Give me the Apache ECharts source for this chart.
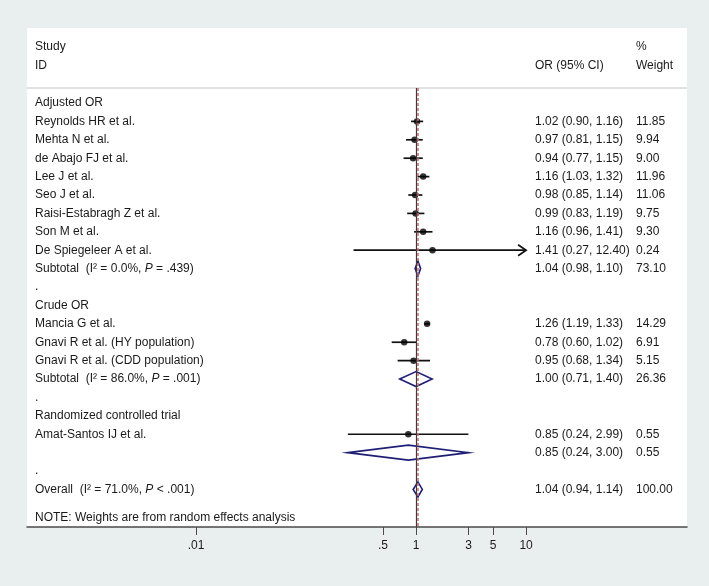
<!DOCTYPE html>
<html>
<head>
<meta charset="utf-8">
<script src="https://cdn.jsdelivr.net/npm/echarts@6/dist/echarts.min.js"></script>
<style>html,body{margin:0;padding:0;background:#e9efef;}#c{width:709px;height:586px;}</style>
</head>
<body>
<div id="c"></div>
<script>
// ---- data ----
const rowLabels = ["Adjusted OR","Reynolds HR et al.","Mehta N et al.","de Abajo FJ et al.","Lee J et al.","Seo J et al.","Raisi-Estabragh Z et al.","Son M et al.","De Spiegeleer A et al.","Subtotal  (I\u00B2 = 0.0%, {i|P} = .439)",".","Crude OR","Mancia G et al.","Gnavi R et al. (HY population)","Gnavi R et al. (CDD population)","Subtotal  (I\u00B2 = 86.0%, {i|P} = .001)",".","Randomized controlled trial","Amat-Santos IJ et al.","",".","Overall  (I\u00B2 = 71.0%, {i|P} < .001)"];
const rowKind = ["head","study","study","study","study","study","study","study","study","sub","dot","head","study","study","study","sub","dot","head","study","sub","dot","sub"];
const est = [null,1.02,0.97,0.94,1.16,0.98,0.99,1.16,1.41,1.04,null,null,1.26,0.78,0.95,1.00,null,null,0.85,0.85,null,1.04];
const lo  = [null,0.90,0.81,0.77,1.03,0.85,0.83,0.96,0.27,0.98,null,null,1.19,0.60,0.68,0.71,null,null,0.24,0.24,null,0.94];
const hi  = [null,1.16,1.15,1.15,1.32,1.14,1.19,1.41,12.40,1.10,null,null,1.33,1.02,1.34,1.40,null,null,2.99,3.00,null,1.14];
const weight = ["","11.85","9.94","9.00","11.96","11.06","9.75","9.30","0.24","73.10","","","14.29","6.91","5.15","26.36","","","0.55","0.55","","100.00"];
const tickValues = [0.01,0.5,1,3,5,10];
const tickLabels = [".01",".5","1","3","5","10"];
const overallEst = 1.04;
const nullValue = 1;
const plotMax = 10;
const headers = {study:"Study", id:"ID", ci:"OR (95% CI)", pct:"%", weight:"Weight"};
const note = "NOTE: Weights are from random effects analysis";

// ---- chart ----
const FF = '"Liberation Sans", Arial, sans-serif';
const FONT = '12px ' + FF;
const TXT = '#1a1a1a';
const chart = echarts.init(document.getElementById('c'), null, {renderer:'canvas'});

const ciData = [], ptData = [], txtData = [];
rowLabels.forEach((l, i) => {
  txtData.push([1, i]);
  if (est[i] !== null) {
    ciData.push([est[i], lo[i], hi[i], i]);
    if (rowKind[i] === 'study') ptData.push([est[i], i]);
  }
});
function ciText(i){ return est[i]===null ? '' : est[i].toFixed(2)+' ('+lo[i].toFixed(2)+', '+hi[i].toFixed(2)+')'; }

const option = {
  backgroundColor: '#e9efef',
  animation: false,
  grid: {left: 27, right: 22, top: 88, bottom: 59, containLabel: false},
  graphic: [
    {type:'rect', shape:{x:27,y:28,width:660,height:499}, style:{fill:'#ffffff'}, z:-10, silent:true},
    {type:'line', shape:{x1:27,y1:88,x2:687,y2:88}, style:{stroke:'#c4c4c4', lineWidth:1}, z:1},
    {type:'text', x:35, y:47, style:{text:headers.study, font:FONT, fill:TXT, verticalAlign:'middle'}},
    {type:'text', x:35, y:66, style:{text:headers.id, font:FONT, fill:TXT, verticalAlign:'middle'}},
    {type:'text', x:535, y:66, style:{text:headers.ci, font:FONT, fill:TXT, verticalAlign:'middle'}},
    {type:'text', x:636, y:47, style:{text:headers.pct, font:FONT, fill:TXT, verticalAlign:'middle'}},
    {type:'text', x:636, y:66, style:{text:headers.weight, font:FONT, fill:TXT, verticalAlign:'middle'}},
    {type:'text', x:35, y:518, style:{text:note, font:FONT, fill:TXT, verticalAlign:'middle'}}
  ],
  xAxis: {
    type:'log', logBase:10, min:0.000291, max:290,
    axisLine:{show:true, onZero:false, lineStyle:{color:'#4a4a4a', width:1.5}},
    axisTick:{show:true, inside:false, length:8, customValues:tickValues, lineStyle:{color:'#4a4a4a', width:1}},
    axisLabel:{show:true, customValues:tickValues, margin:13, color:TXT, fontFamily:FF, fontSize:12,
      formatter: v => { const k = tickValues.findIndex(t => Math.abs(t - v) < 1e-9 * Math.max(1, t)); return k >= 0 ? tickLabels[k] : ''; }},
    splitLine:{show:false}, minorTick:{show:false}
  },
  yAxis: {type:'value', inverse:true, min:-0.815, max:23.04, show:false},
  series: [
    {
      type:'custom', name:'text', data: txtData, encode:{x:0, y:1}, z:5, silent:true,
      renderItem: (params, api) => {
        const i = params.dataIndex;
        const y = api.coord([1, api.value(1)])[1];
        const rich = {i:{fontStyle:'italic', fontFamily:FF, fontSize:12, fill:TXT}};
        return {type:'group', children:[
          {type:'text', x:35, y:y, style:{text:rowLabels[i], font:FONT, fill:TXT, verticalAlign:'middle', rich:rich}},
          {type:'text', x:535, y:y, style:{text:ciText(i), font:FONT, fill:TXT, verticalAlign:'middle'}},
          {type:'text', x:636, y:y, style:{text:weight[i], font:FONT, fill:TXT, verticalAlign:'middle'}}
        ]};
      }
    },
    {
      type:'custom', name:'ci', data: ciData, encode:{x:[0,1,2], y:3}, z:3, clip:false, silent:true,
      renderItem: (params, api) => {
        const e = api.value(0), l = api.value(1), h = api.value(2), r = api.value(3);
        const kind = rowKind[r];
        if (kind === 'study') {
          const p1 = api.coord([l, r]);
          const p2 = api.coord([Math.min(h, plotMax), r]);
          const ch = [{type:'line', shape:{x1:p1[0], y1:p1[1], x2:p2[0], y2:p2[1]}, style:{stroke:'#111', lineWidth:1.7}}];
          if (h > plotMax) {
            ch.push({type:'polyline', shape:{points:[[p2[0]-8, p2[1]-5.5],[p2[0], p2[1]],[p2[0]-8, p2[1]+5.5]]}, style:{stroke:'#111', lineWidth:1.7, fill:null}});
          }
          return {type:'group', children:ch};
        }
        const pl = api.coord([l, r]), pc = api.coord([e, r]), ph = api.coord([h, r]);
        return {type:'polygon', shape:{points:[[pl[0], pl[1]],[pc[0], pc[1]-7.5],[ph[0], ph[1]],[pc[0], pc[1]+7.5]]},
          style:{fill:'none', stroke:'#1f1f78', lineWidth:1.6}};
      }
    },
    {
      type:'scatter', name:'points', data: ptData, symbol:'circle', symbolSize:6.5, z:4, silent:true,
      itemStyle:{color:'#000'},
      markLine:{
        silent:true, symbol:['none','none'], label:{show:false}, animation:false,
        data:[
          {xAxis: nullValue, lineStyle:{color:'#3c3c3c', width:1.2, type:'solid'}},
          {xAxis: overallEst, lineStyle:{color:'#c86a6e', width:1.5, type:[3,2]}}
        ]
      }
    }
  ]
};
chart.setOption(option);
</script>
</body>
</html>
